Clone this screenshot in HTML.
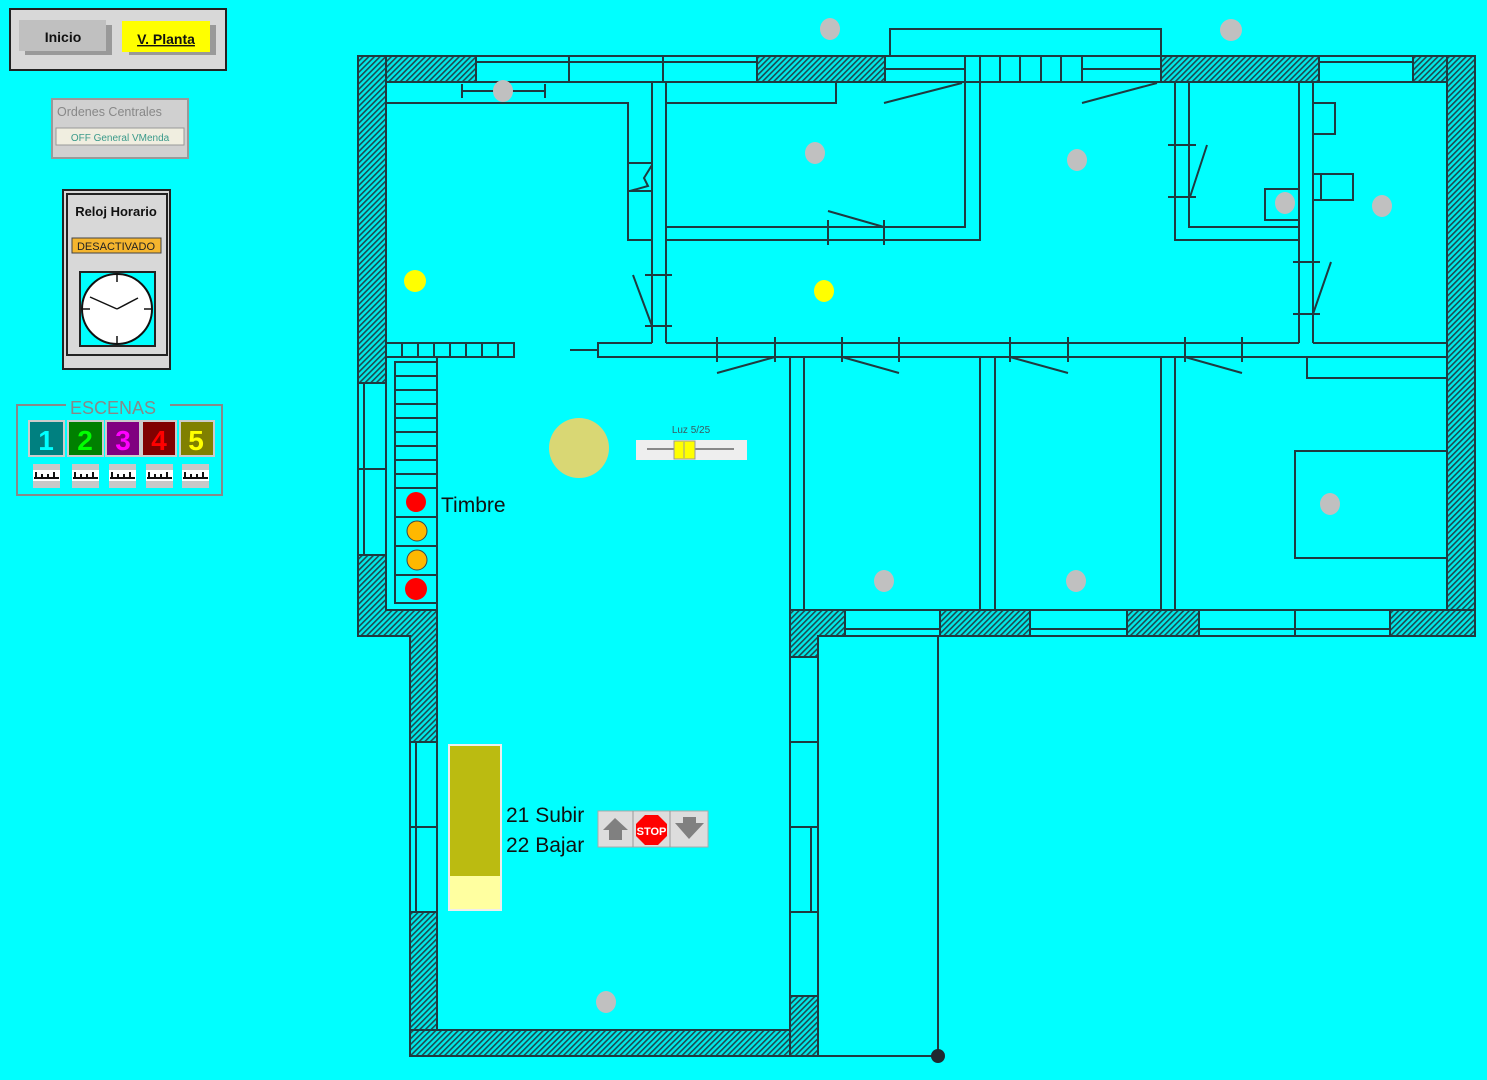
<!DOCTYPE html>
<html><head><meta charset="utf-8"><style>
html,body{margin:0;padding:0;background:#00ffff;}
svg{display:block}
text{font-family:"Liberation Sans",sans-serif}
</style></head><body>
<svg width="1487" height="1080" viewBox="0 0 1487 1080" xmlns="http://www.w3.org/2000/svg">
<defs>
<pattern id="h" width="4" height="4" patternUnits="userSpaceOnUse" patternTransform="rotate(45)">
<rect width="4" height="4" fill="#00e8e8"/><rect width="1.6" height="4" fill="#1d4a50"/>
</pattern>
</defs>
<rect width="1487" height="1080" fill="#00ffff"/>
<g stroke="#1f3a40" stroke-width="2" fill="none">
<!-- hatched walls -->
<g fill="url(#h)">
<rect x="358" y="56" width="118" height="26"/>
<rect x="358" y="56" width="28" height="327"/>
<rect x="757" y="56" width="128" height="26"/>
<rect x="1161" y="56" width="158" height="26"/>
<rect x="1413" y="56" width="62" height="26"/>
<rect x="1447" y="56" width="28" height="580"/>
<path d="M358 555 H386 V610 H437 V742 H410 V636 H358 Z"/>
<rect x="410" y="912" width="27" height="144"/>
<rect x="410" y="1030" width="408" height="26"/>
<rect x="790" y="996" width="28" height="60"/>
<path d="M790 610 H845 V636 H818 V657 H790 Z"/>
<rect x="940" y="610" width="90" height="26"/>
<rect x="1127" y="610" width="72" height="26"/>
<rect x="1390" y="610" width="85" height="26"/>
</g>
<!-- windows top -->
<path d="M476 56 H757 M476 82 H757 M476 62 H757 M569 56 V82 M663 56 V82"/>
<path d="M885 56 H1161 M885 82 H1161 M885 69 H965 M1082 69 H1161 M965 56V82 M980 56V82 M1000 56V82 M1020 56V82 M1041 56V82 M1061 56V82 M1082 56V82"/>
<rect x="890" y="29" width="271" height="27"/>
<path d="M1319 56 H1413 M1319 82 H1413 M1319 62 H1413"/>
<!-- left window -->
<path d="M358 383 V555 M364 383 V555 M386 383 V555 M358 469 H386"/>
<path d="M410 742 V912 M416 742 V912 M437 742 V912 M410 827 H437"/>
<path d="M790 657 V996 M818 657 V996 M790 742 H818 M790 827 H818 M790 912 H818 M811 827 V912"/>
<!-- bottom windows -->
<path d="M845 610 H940 M845 636 H940 M845 629 H940 M1030 610 H1127 M1030 636 H1127 M1030 629 H1127 M1199 610 H1390 M1199 636 H1390 M1199 629 H1390 M1295 610 V636"/>
<path d="M818 1056 H938 M938 636 V1056"/>
<path d="M437 610 V1030 H790 V610"/>
<path d="M818 657 V1056"/>
<!-- interior top-left -->
<path d="M462 84 V98 M545 84 V98 M462 91 H545"/>
<path d="M386 103 H628 V240 H652 M628 163 H652 M628 191 H652 M652 165 L644 178 L648 186 L630 191"/>
<path d="M652 82 V343 M666 82 V343"/>
<path d="M666 103 H836 V82"/>
<path d="M666 227 H965 V82 M666 240 H980 V82"/>
<path d="M828 220 V245 M884 220 V245 M828 211 L884 227"/>
<path d="M884 103 L962 83 M1082 103 L1157 83"/>
<path d="M645 275 H672 M645 326 H672 M633 275 L652 326"/>
<!-- corridor -->
<path d="M652 343 H598 V357 H1447 M666 343 H1299 M1313 343 H1447 M570 350 H598"/>
<path d="M386 343 H514 V357 H386 M402 343V357 M418 343V357 M434 343V357 M450 343V357 M466 343V357 M482 343V357 M498 343V357"/>
<path d="M717 337 V362 M775 337 V362 M717 373 L775 357 M842 337 V362 M899 337 V362 M842 357 L899 373 M1010 337 V362 M1068 337 V362 M1010 357 L1068 373 M1185 337 V362 M1242 337 V362 M1185 357 L1242 373"/>
<!-- right rooms -->
<path d="M1175 82 V240 H1299 M1189 82 V227 H1299 M1299 82 V343 M1313 82 V343"/>
<rect x="1265" y="189" width="34" height="31"/>
<rect x="1313" y="103" width="22" height="31"/>
<rect x="1313" y="174" width="40" height="26"/>
<path d="M1321 174 V200"/>
<path d="M1168 145 H1196 M1168 197 H1196 M1207 145 L1190 197"/>
<path d="M1293 262 H1320 M1293 314 H1320 M1331 262 L1313 314"/>
<path d="M1307 357 V378 H1447"/>
<path d="M1447 451 H1295 V558 H1447"/>
<!-- lower rooms -->
<path d="M790 357 V610 M804 357 V610 M980 357 V610 M995 357 V610 M1161 357 V610 M1175 357 V610 M804 610 H1447 M437 610 V357"/>
<!-- stairs -->
<rect x="395" y="362" width="42" height="241"/>
<path d="M395 376H437 M395 390H437 M395 404H437 M395 418H437 M395 432H437 M395 446H437 M395 460H437 M395 474H437 M395 488H437 M395 517H437 M395 546H437 M395 575H437"/>
</g>
<circle cx="938" cy="1056" r="7" fill="#1f2a30"/>
<!-- lights -->
<g fill="#c0c0c0">
<ellipse cx="830" cy="29" rx="10" ry="11"/><ellipse cx="1231" cy="30" rx="11" ry="11"/>
<ellipse cx="503" cy="91" rx="10" ry="11"/><ellipse cx="815" cy="153" rx="10" ry="11"/>
<ellipse cx="1077" cy="160" rx="10" ry="11"/><ellipse cx="1285" cy="203" rx="10" ry="11"/>
<ellipse cx="1382" cy="206" rx="10" ry="11"/><ellipse cx="884" cy="581" rx="10" ry="11"/>
<ellipse cx="1076" cy="581" rx="10" ry="11"/><ellipse cx="1330" cy="504" rx="10" ry="11"/>
<ellipse cx="606" cy="1002" rx="10" ry="11"/>
</g>
<ellipse cx="415" cy="281" rx="11" ry="11" fill="#ffff00"/>
<ellipse cx="824" cy="291" rx="10" ry="11" fill="#ffff00"/>
<circle cx="579" cy="448" r="30" fill="#d9d774"/>
<!-- slider -->
<text x="691" y="433" font-size="10" fill="#3a5a60" text-anchor="middle">Luz 5/25</text>
<rect x="636" y="440" width="111" height="20" fill="#eeeeee"/>
<path d="M647 449 H734" stroke="#888" stroke-width="2"/>
<rect x="674" y="441" width="21" height="18" fill="#ffff00" stroke="#999"/>
<path d="M684 442 V458" stroke="#999"/>
<!-- timbre -->
<circle cx="416" cy="502" r="10" fill="#ff0000"/>
<circle cx="417" cy="531" r="10" fill="#ffb800" stroke="#444"/>
<circle cx="417" cy="560" r="10" fill="#ffb800" stroke="#444"/>
<circle cx="416" cy="589" r="11" fill="#ff0000"/>
<text x="441" y="512" font-size="21" fill="#111">Timbre</text>
<!-- blind -->
<rect x="448" y="744" width="54" height="167" fill="#eeeeee"/>
<rect x="450" y="746" width="50" height="130" fill="#bbbb11"/>
<rect x="450" y="876" width="50" height="33" fill="#ffffa0"/>
<text x="506" y="822" font-size="21" fill="#111">21 Subir</text>
<text x="506" y="852" font-size="21" fill="#111">22 Bajar</text>
<g>
<rect x="598" y="811" width="110" height="36" fill="#dddddd" stroke="#aaa"/>
<path d="M633 811 V847 M670 811 V847" stroke="#999"/>
<path d="M603 830 L615 818 L628 830 H622 V840 H609 V830 Z" fill="#808080"/>
<path d="M675 823 H683 V817 H696 V823 H704 L689 839 Z" fill="#808080"/>
<polygon points="645,815 658,815 667,824 667,836 658,845 645,845 636,836 636,824" fill="#ff0000"/>
<text x="651.5" y="835" font-size="11" fill="#fff" text-anchor="middle" font-weight="bold">STOP</text>
</g>
<!-- left panels -->
<rect x="10" y="9" width="216" height="61" fill="#d8d8d8" stroke="#222" stroke-width="2"/>
<rect x="25" y="25" width="87" height="30" fill="#999"/>
<rect x="19" y="20" width="87" height="31" fill="#c0c0c0"/>
<text x="63" y="42" font-size="14" font-weight="bold" text-anchor="middle" fill="#111">Inicio</text>
<rect x="129" y="25" width="87" height="30" fill="#999"/>
<rect x="122" y="21" width="88" height="31" fill="#ffff00"/>
<text x="166" y="44" font-size="14" font-weight="bold" text-anchor="middle" fill="#111" text-decoration="underline">V. Planta</text>
<rect x="52" y="99" width="136" height="59" fill="#d0d0d0" stroke="#999" stroke-width="2"/>
<text x="57" y="116" font-size="12.5" fill="#888">Ordenes Centrales</text>
<rect x="56" y="128" width="128" height="17" fill="#f0eee0" stroke="#999"/>
<text x="120" y="141" font-size="10" fill="#3a9a8a" text-anchor="middle">OFF General VMenda</text>
<rect x="63" y="190" width="107" height="179" fill="#d8d8d8" stroke="#222" stroke-width="2"/>
<rect x="67" y="194" width="100" height="161" fill="none" stroke="#222" stroke-width="2"/>
<text x="116" y="216" font-size="13" font-weight="bold" text-anchor="middle" fill="#111">Reloj Horario</text>
<rect x="72" y="238" width="89" height="15" fill="#f5b52e" stroke="#444"/>
<text x="116" y="250" font-size="11" text-anchor="middle" fill="#222">DESACTIVADO</text>
<rect x="80" y="272" width="75" height="74" fill="#00ffff" stroke="#222" stroke-width="2"/>
<circle cx="117" cy="309" r="35" fill="#fff" stroke="#111" stroke-width="2"/>
<g stroke="#111" stroke-width="1.5">
<path d="M117 275V282 M117 336V343 M83 309H90 M144 309H151 M117 309 L90 297 M117 309 L138 298"/>
</g>
<rect x="17" y="405" width="205" height="90" fill="none" stroke="#888" stroke-width="2"/>
<rect x="66" y="398" width="104" height="18" fill="#00ffff"/>
<text x="113" y="414" font-size="18" fill="#888" text-anchor="middle">ESCENAS</text>
<g font-size="28" font-weight="bold" text-anchor="middle" stroke="#ccc" stroke-width="0">
<rect x="29" y="421" width="35" height="35" fill="#008080" stroke="#ccc" stroke-width="2"/><text x="46" y="450" fill="#00ffff">1</text>
<rect x="68" y="421" width="35" height="35" fill="#008000" stroke="#ccc" stroke-width="2"/><text x="85" y="450" fill="#00ff00">2</text>
<rect x="106" y="421" width="34" height="35" fill="#800080" stroke="#ccc" stroke-width="2"/><text x="123" y="450" fill="#ff00ff">3</text>
<rect x="142" y="421" width="34" height="35" fill="#800000" stroke="#ccc" stroke-width="2"/><text x="159" y="450" fill="#ff0000">4</text>
<rect x="180" y="421" width="34" height="35" fill="#808000" stroke="#ccc" stroke-width="2"/><text x="196" y="450" fill="#ffff00">5</text>
</g>
<g>
<rect x="33" y="464" width="27" height="24" fill="#c8c8c8"/><rect x="33" y="470" width="27" height="11" fill="#fff"/><path d="M34 478H59 M36 472V478 M42 474V478 M48 474V478 M54 472V478" stroke="#111" stroke-width="2"/>
<rect x="72" y="464" width="27" height="24" fill="#c8c8c8"/><rect x="72" y="470" width="27" height="11" fill="#fff"/><path d="M73 478H98 M75 472V478 M81 474V478 M87 474V478 M93 472V478" stroke="#111" stroke-width="2"/>
<rect x="109" y="464" width="27" height="24" fill="#c8c8c8"/><rect x="109" y="470" width="27" height="11" fill="#fff"/><path d="M110 478H135 M112 472V478 M118 474V478 M124 474V478 M130 472V478" stroke="#111" stroke-width="2"/>
<rect x="146" y="464" width="27" height="24" fill="#c8c8c8"/><rect x="146" y="470" width="27" height="11" fill="#fff"/><path d="M147 478H172 M149 472V478 M155 474V478 M161 474V478 M167 472V478" stroke="#111" stroke-width="2"/>
<rect x="182" y="464" width="27" height="24" fill="#c8c8c8"/><rect x="182" y="470" width="27" height="11" fill="#fff"/><path d="M183 478H208 M185 472V478 M191 474V478 M197 474V478 M203 472V478" stroke="#111" stroke-width="2"/>
</g>
</svg>
</body></html>
